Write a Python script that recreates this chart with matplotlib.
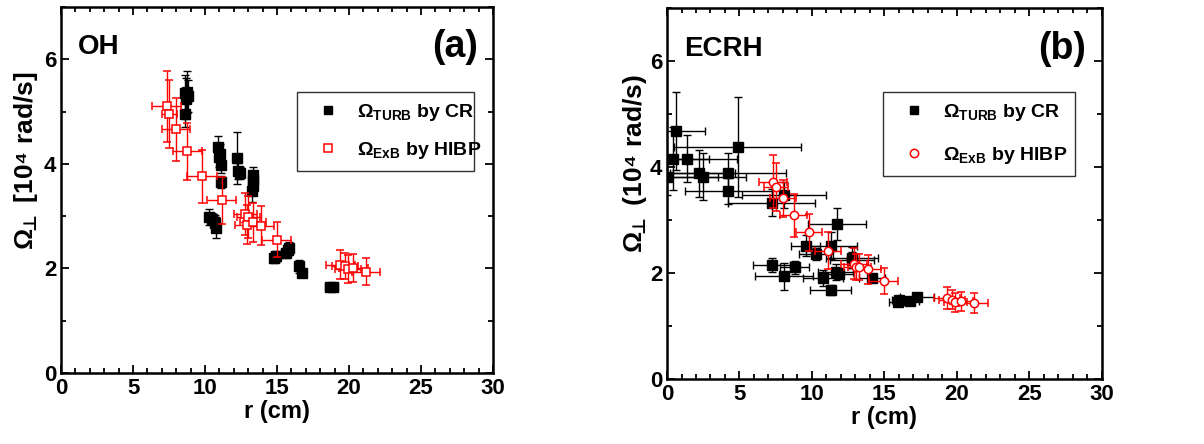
import matplotlib
matplotlib.use('Agg')
import matplotlib.pyplot as plt
from matplotlib.lines import Line2D
from matplotlib.ticker import MultipleLocator

plt.rcParams['font.family'] = ['Liberation Sans', 'DejaVu Sans']
plt.rcParams['font.weight'] = 'bold'
plt.rcParams['axes.labelweight'] = 'bold'
plt.rcParams['mathtext.fontset'] = 'custom'
plt.rcParams['mathtext.rm'] = 'Liberation Sans:bold'
plt.rcParams['mathtext.it'] = 'Liberation Sans:bold'
plt.rcParams['mathtext.bf'] = 'Liberation Sans:bold'

# ---- panel (a): OH ----
r_a_cr = [8.6, 8.7, 8.8, 8.75, 8.6, 10.9, 11.0, 11.05, 11.1, 11.1, 12.25, 12.3, 12.4,
          13.3, 13.35, 13.3, 13.25, 10.3, 10.5, 10.7, 10.75, 14.8, 14.9, 15.6, 15.75,
          15.8, 16.55, 16.75, 18.7, 18.9]
w_a_cr = [5.35, 5.25, 5.3, 5.38, 4.95, 4.33, 4.14, 4.18, 3.97, 3.65, 4.11, 3.86, 3.83,
          3.79, 3.7, 3.58, 3.48, 2.98, 2.95, 2.87, 2.78, 2.2, 2.23, 2.3, 2.36,
          2.4, 2.04, 1.91, 1.65, 1.65]
xe_a_cr = [0.25, 0.25, 0.3, 0.25, 0.25, 0.2, 0.2, 0.25, 0.2, 0.2, 0.25, 0.2, 0.25,
           0.2, 0.2, 0.2, 0.2, 0.3, 0.3, 0.3, 0.25, 0.3, 0.3, 0.3, 0.3,
           0.3, 0.25, 0.25, 0.35, 0.35]
ye_a_cr = [0.35, 0.4, 0.3, 0.4, 0.25, 0.2, 0.2, 0.2, 0.15, 0.12, 0.5, 0.15, 0.12,
           0.15, 0.15, 0.15, 0.2, 0.15, 0.12, 0.15, 0.2, 0.1, 0.1, 0.1, 0.1,
           0.1, 0.12, 0.08, 0.05, 0.05]

r_a_hibp = [7.34, 7.52, 7.99, 8.77, 9.79, 11.16, 12.78, 13.0, 12.9, 13.3, 13.89, 14.98,
            19.38, 19.7, 19.93, 20.3, 21.18]
w_a_hibp = [5.10, 4.95, 4.66, 4.24, 3.76, 3.30, 3.04, 2.99, 2.84, 2.88, 2.82, 2.55,
            2.07, 2.04, 1.99, 2.01, 1.94]
xe_a_hibp = [1.0, 0.5, 1.0, 1.0, 1.05, 1.0, 0.8, 0.8, 0.8, 0.9, 0.9, 1.0,
             1.0, 0.9, 0.9, 1.0, 1.0]
ye_a_hibp = [0.68, 0.65, 0.6, 0.55, 0.5, 0.45, 0.4, 0.4, 0.38, 0.38, 0.38, 0.33,
             0.28, 0.25, 0.27, 0.27, 0.26]

# ---- panel (b): ECRH ----
r_b_cr = [0.02, 0.39, 0.62, 1.36, 2.18, 2.46, 4.23, 4.23, 4.87, 7.22, 8.07, 11.7,
          9.59, 10.28, 11.33, 12.76, 12.78, 7.22, 8.81, 8.09, 11.63, 11.9, 10.78,
          11.29, 14.16, 15.91, 16.0, 16.76, 17.26]
w_b_cr = [3.82, 4.16, 4.68, 4.16, 3.88, 3.82, 3.89, 3.55, 4.38, 3.33, 3.47, 2.92,
          2.52, 2.36, 2.52, 2.29, 2.25, 2.16, 2.11, 1.94, 2.02, 1.99, 1.90,
          1.68, 1.90, 1.46, 1.49, 1.47, 1.55]
xe_b_cr = [3.5, 2.5, 2.0, 3.5, 2.5, 3.0, 4.0, 3.0, 4.4, 3.0, 2.9, 2.0,
           1.0, 1.2, 1.8, 1.8, 1.5, 1.3, 1.0, 2.0, 1.2, 1.0, 1.4,
           1.4, 0.9, 0.6, 0.5, 0.6, 1.2]
ye_b_cr = [0.35, 0.6, 0.74, 0.44, 0.44, 0.45, 0.38, 0.25, 0.95, 0.25, 0.25, 0.3,
           0.2, 0.12, 0.25, 0.2, 0.15, 0.13, 0.12, 0.25, 0.15, 0.1, 0.15,
           0.1, 0.06, 0.05, 0.05, 0.05, 0.05]

r_b_hibp = [7.33, 7.52, 7.98, 8.74, 9.77, 11.13, 12.9, 13.03, 13.26, 13.88, 14.97,
            19.33, 19.7, 19.9, 20.3, 21.17]
w_b_hibp = [3.72, 3.63, 3.41, 3.09, 2.77, 2.42, 2.18, 2.12, 2.12, 2.07, 1.85,
            1.53, 1.50, 1.45, 1.47, 1.43]
xe_b_hibp = [0.95, 0.8, 0.9, 0.92, 0.9, 0.9, 0.9, 0.8, 0.8, 0.9, 1.0,
             0.9, 0.9, 0.8, 0.8, 1.0]
ye_b_hibp = [0.5, 0.45, 0.35, 0.4, 0.35, 0.35, 0.3, 0.25, 0.25, 0.28, 0.25,
             0.2, 0.18, 0.18, 0.18, 0.19]

lab_cr = r'$\Omega_{\mathrm{TURB}}$ by CR'
lab_hibp = r'$\Omega_{\mathrm{ExB}}$ by HIBP'

fig = plt.figure(figsize=(12.04, 4.44), dpi=100)
ax1 = fig.add_axes([0.0507, 0.160, 0.3588, 0.824])
ax2 = fig.add_axes([0.554, 0.146, 0.361, 0.836])


def draw_panel(ax, rc, wc, xc, yc, rh, wh, xh, yh, hmark, ylabel, tag, letter, leg_box, lspace, ylab_xy):
    ax.errorbar(rc, wc, xerr=xc, yerr=yc, fmt='s', color='black', ms=7, lw=1,
                capsize=3, capthick=1, zorder=2)
    ax.errorbar(rh, wh, xerr=xh, yerr=yh, fmt=hmark, color='red', mfc='white',
                mec='red', mew=1.1, ms=6, lw=1, capsize=3, capthick=1, zorder=3)
    ax.set_xlim(0, 30)
    ax.set_ylim(0, 7)
    ax.xaxis.set_major_locator(MultipleLocator(5))
    ax.xaxis.set_minor_locator(MultipleLocator(1))
    ax.yaxis.set_major_locator(MultipleLocator(2))
    ax.yaxis.set_minor_locator(MultipleLocator(1))
    ax.tick_params(which='both', direction='in', top=True, right=True, labelsize=16, width=1.3)
    ax.tick_params(which='major', length=6)
    ax.tick_params(which='minor', length=3.5)
    for s in ax.spines.values():
        s.set_linewidth(1.8)
    ax.set_xlabel('r (cm)', fontsize=17, labelpad=1)
    # up tack (U+22A5) via \bot, taken from DejaVu since Liberation lacks it
    ax.set_ylabel(ylabel, fontsize=19, math_fontfamily='dejavusans')
    ax.yaxis.set_label_coords(*ylab_xy)
    ax.text(0.04, 0.89, tag, transform=ax.transAxes, fontsize=20, va='center', ha='left')
    ax.text(0.965, 0.89, letter, transform=ax.transAxes, fontsize=27, va='center', ha='right')
    handles = [Line2D([], [], ls='none', marker='s', color='black', ms=6),
               Line2D([], [], ls='none', marker=hmark, color='red', mfc='white', mew=1.1, ms=6)]
    leg = ax.legend(handles, [lab_cr, lab_hibp], loc='upper left', bbox_to_anchor=leg_box,
                    mode='expand', fontsize=14, frameon=True, fancybox=False,
                    edgecolor='black', borderpad=0.5, labelspacing=lspace, borderaxespad=0,
                    handletextpad=0.4, handlelength=2.2)
    leg.get_frame().set_linewidth(1.0)


draw_panel(ax1, r_a_cr, w_a_cr, xe_a_cr, ye_a_cr, r_a_hibp, w_a_hibp, xe_a_hibp, ye_a_hibp,
           's', r'Ω$_{\!\!\bot}$ [10⁴ rad/s]', 'OH', '(a)',
           (0.546, 0.549, 0.41, 0.219), 0.9, (-0.049, 0.58))
draw_panel(ax2, r_b_cr, w_b_cr, xe_b_cr, ye_b_cr, r_b_hibp, w_b_hibp, xe_b_hibp, ye_b_hibp,
           'o', r'Ω$_{\!\!\bot}$ (10⁴ rad/s)', 'ECRH', '(b)',
           (0.497, 0.538, 0.441, 0.236), 1.15, (-0.041, 0.58))

fig.savefig('out.png', dpi=100)
